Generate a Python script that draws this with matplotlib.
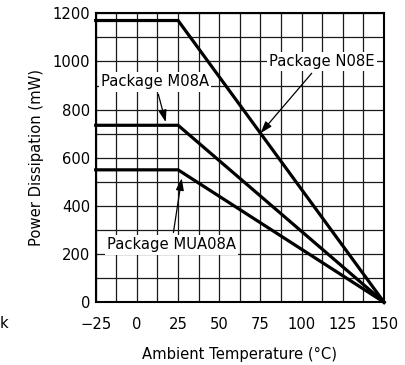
import matplotlib
matplotlib.use("Agg")
import matplotlib.pyplot as plt
import numpy as np

# Derating curves: (ambient temperature °C, power dissipation mW)
temp_points = [-25, 25, 150]
n08e_mw = [1170, 1170, 0]
m08a_mw = [735, 735, 0]
mua08a_mw = [550, 550, 0]

x_ticks = [-25, 0, 25, 50, 75, 100, 125, 150]
y_ticks = [0, 200, 400, 600, 800, 1000, 1200]

plt.rcParams['font.family'] = ['DejaVu Sans']
FS = 10.6

fig = plt.figure(figsize=(4.06, 3.65), dpi=100)
ax = fig.add_axes([0.2357, 0.1718, 0.7103, 0.7918])

ax.set_xlim(-25, 150)
ax.set_ylim(0, 1200)
ax.set_xticks(x_ticks)
ax.set_yticks(y_ticks)
ax.set_xticks(np.arange(-25, 150.1, 12.5), minor=True)
ax.set_yticks(np.arange(0, 1201, 100), minor=True)
ax.grid(True, which='both', color='#1a1a1a', linewidth=0.9)
ax.set_axisbelow(True)
ax.tick_params(which='both', length=0)
ax.tick_params(axis='x', pad=10.5, labelsize=FS)
ax.tick_params(axis='y', pad=4, labelsize=FS)
for s in ax.spines.values():
    s.set_linewidth(1.5)
    s.set_color('black')

for series in (n08e_mw, m08a_mw, mua08a_mw):
    ax.plot(temp_points, series, color='black', linewidth=2.3,
            solid_joinstyle='miter', clip_on=False, zorder=3)

box = dict(boxstyle='square,pad=0.15', facecolor='white', edgecolor='none')
arrow = dict(arrowstyle='-|>,head_length=0.6,head_width=0.2', color='black',
             linewidth=0.9, mutation_scale=12, shrinkA=2, shrinkB=0)

ax.annotate('Package N08E', xy=(75, 702), xytext=(112.2, 1000),
            fontsize=FS, ha='center', va='center', bbox=box,
            arrowprops=arrow, zorder=5)
ax.annotate('Package M08A', xy=(17.5, 748), xytext=(11, 915),
            fontsize=FS, ha='center', va='center', bbox=box,
            arrowprops=arrow, zorder=5)
ax.annotate('Package MUA08A', xy=(27.2, 515), xytext=(21, 238),
            fontsize=FS, ha='center', va='center', bbox=box,
            arrowprops=arrow, zorder=5)

ax.set_xlabel('Ambient Temperature (°C)', fontsize=FS, labelpad=11)
ax.set_ylabel('Power Dissipation (mW)', fontsize=FS, labelpad=6)

fig.text(0.003, 365 - 323, 'k', fontsize=FS, ha='left', va='center',
         transform=None)

fig.savefig('out.png', dpi=100)
